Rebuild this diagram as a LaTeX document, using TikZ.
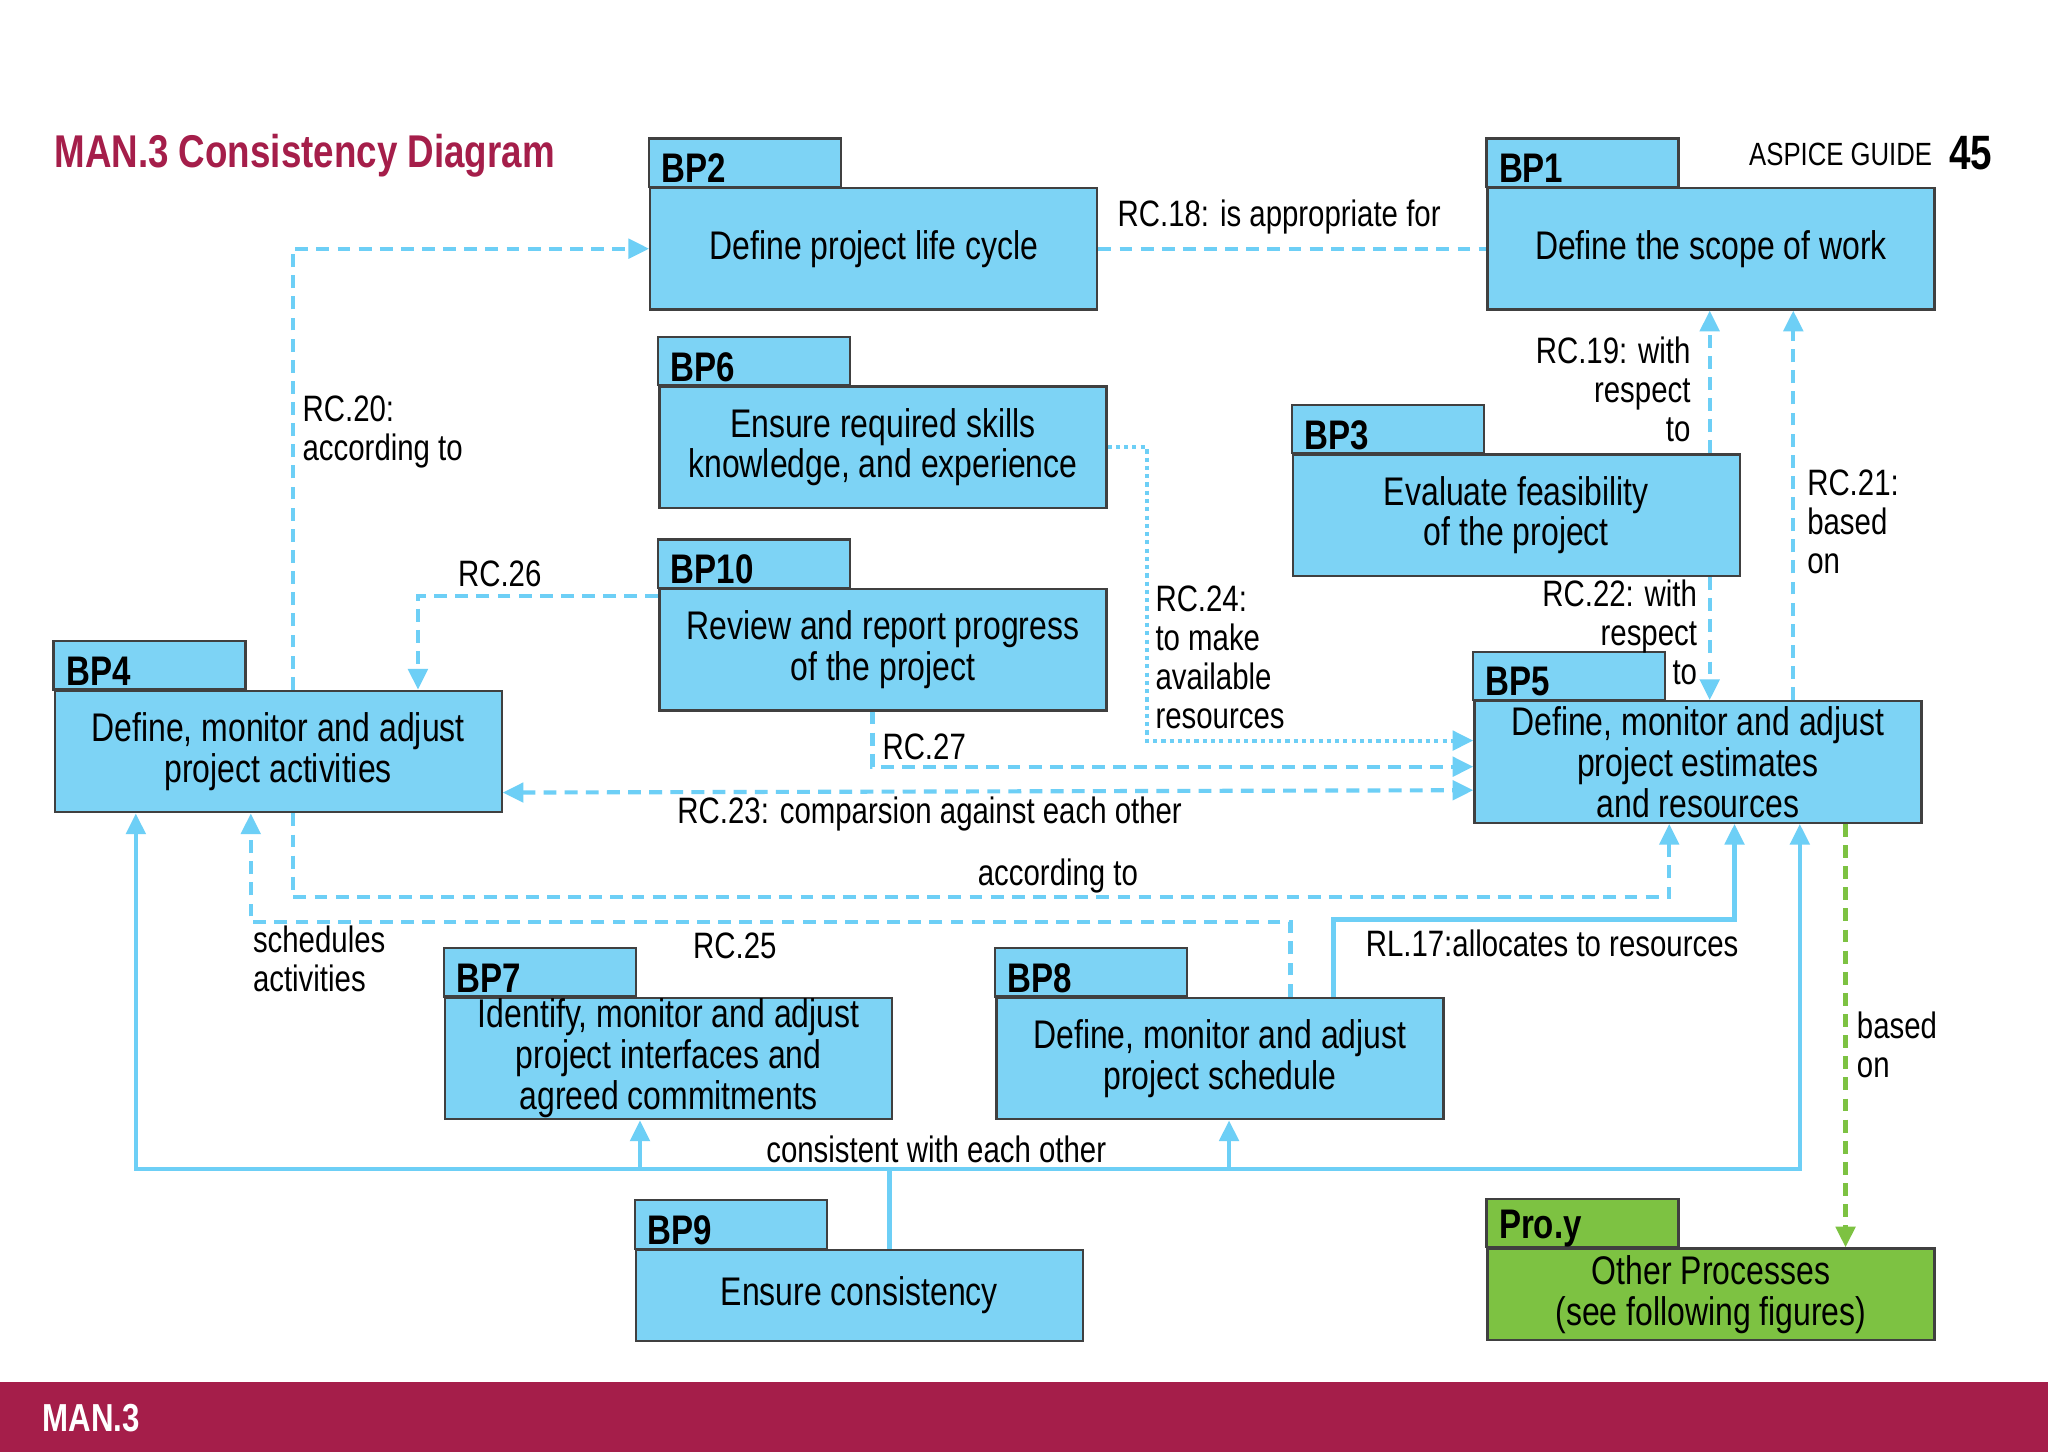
\documentclass[tikz,border=0pt]{standalone}
\usepackage{fontspec}
\setmainfont{Liberation Sans}[FakeStretch=0.8]
\usetikzlibrary{arrows.meta,calc}
\definecolor{boxblue}{HTML}{7DD3F5}
\definecolor{lineblue}{HTML}{6DCFF6}
\definecolor{grn}{HTML}{7DC242}
\definecolor{crim}{HTML}{A51E4A}
\tikzset{
  box/.style={draw=black!75,line width=0.5pt,fill=boxblue,minimum width=3.42cm,minimum height=0.93cm,anchor=north west,inner sep=0pt,align=center,font=\fontsize{8.7}{8.9}\selectfont},
  tab/.style={draw=black!75,line width=0.5pt,fill=boxblue},
  tabl/.style={anchor=west,inner sep=0pt,font=\bfseries\fontsize{9}{9}\selectfont},
  con/.style={draw=lineblue,line width=0.9pt},
  dsh/.style={con,dash pattern=on 2.8pt off 1.8pt},
  dot/.style={con,dash pattern=on 0.9pt off 0.9pt},
  arr/.style={-{Triangle[length=4.5pt,width=4.2pt]}},
  darr/.style={{Triangle[length=4.5pt,width=4.2pt]}-{Triangle[length=4.5pt,width=4.2pt]}},
  lbl/.style={inner sep=0pt,align=left,font=\fontsize{8}{8.5}\selectfont},
}
\newcommand\pkgbox[5]{% name, x, y(body top), label, text
  \node[box] (#1) at (#2,#3) {#5};
  \draw[tab] (#1.north west) rectangle ++(147,-37);
  \node[tabl] at ($(#1.north west)+(9,-14)$) {#4};
}
\begin{document}
\begin{tikzpicture}[x=0.01cm,y=-0.01cm]
\useasboundingbox (0,0) rectangle (1568,1112);
\fill[white] (0,0) rectangle (1568,1112);
\fill[crim] (0,1058) rectangle (1568,1112);
\node[anchor=west,inner sep=0pt,text=white,font=\bfseries\fontsize{8.5}{9}\selectfont] (foot) at (32,1086) {MAN.3};
\node[anchor=west,inner sep=0pt,text=crim,font=\bfseries\fontsize{10}{12}\selectfont] (title) at (41,119) {MAN.3 Consistency Diagram};
\node[anchor=east,inner sep=0pt,font=\fontsize{7}{8}\selectfont] (guide) at (1480,118) {ASPICE GUIDE};
\node[anchor=east,inner sep=0pt,font=\bfseries\fontsize{10.5}{11}\selectfont] (page) at (1526,117) {45};

\pkgbox{bp2}{497}{143}{BP2}{Define project life cycle}
\pkgbox{bp1}{1138}{143}{BP1}{Define the scope of work}
\pkgbox{bp6}{504}{295}{BP6}{Ensure required skills\\knowledge, and experience}
\pkgbox{bp3}{989}{347}{BP3}{Evaluate feasibility\\of the project}
\pkgbox{bp10}{504}{450}{BP10}{Review and report progress\\of the project}
\pkgbox{bp4}{41}{528}{BP4}{Define, monitor and adjust\\project activities}
\pkgbox{bp5}{1128}{536}{BP5}{Define, monitor and adjust\\project estimates\\and resources}
\pkgbox{bp7}{340}{763}{BP7}{Identify, monitor and adjust\\project interfaces and\\agreed commitments}
\pkgbox{bp8}{762}{763}{BP8}{Define, monitor and adjust\\project schedule}
\tikzset{box/.append style={minimum height=0.7cm}}
\pkgbox{bp9}{486}{956}{BP9}{Ensure consistency}
\tikzset{box/.append style={fill=grn},tab/.append style={fill=grn}}
\pkgbox{proy}{1138}{955}{Pro.y}{Other Processes\\(see following figures)}

% connectors
\draw[dsh] (bp2.east) -- (bp1.west);
\draw[dsh,arr] ($(bp4.north west)+(183,0)$) |- (bp2.west);
\draw[dsh,arr] ($(bp10.north west)+(0,6)$) -| ($(bp4.north west)+(279,0)$);
\draw[dot,arr] (bp6.east) -- ++(30,0) |- ($(bp5.north west)+(0,31)$);
\draw[dsh,arr] ($(bp10.south west)+(164,0)$) |- ($(bp5.north west)+(0,51)$);
\draw[dsh,darr] ($(bp4.south east)+(0,-16)$) -- ($(bp5.north west)+(0,69)$);
\draw[dsh,arr] ($(bp3.north west)+(320,0)$) -- ($(bp1.south west)+(171,0)$);
\draw[dsh,arr] ($(bp3.south west)+(320,0)$) -- ($(bp5.north west)+(181,0)$);
\draw[dsh,arr] ($(bp5.north west)+(245,0)$) -- ($(bp1.south west)+(235,0)$);
\draw[dsh,arr] ($(bp4.south west)+(183,0)$) -- ++(0,64) -| ($(bp5.south west)+(150,0)$);
\draw[dsh,arr] ($(bp8.north west)+(226,0)$) -- ++(0,-57) -| ($(bp4.south west)+(151,0)$);
\draw[con,arr] ($(bp8.north west)+(259,0)$) -- ++(0,-59) -| ($(bp5.south west)+(200,0)$);
\draw[con] ($(bp9.north west)+(195,0)$) -- ++(0,-61) coordinate (j);
\draw[con,arr] (j) -| ($(bp4.south west)+(63,0)$);
\draw[con,arr] (j) -| ($(bp7.south west)+(150,0)$);
\draw[con,arr] (j) -| ($(bp8.south west)+(179,0)$);
\draw[con,arr] (j) -| ($(bp5.south west)+(250,0)$);
\draw[draw=grn,line width=0.9pt,dash pattern=on 2.8pt off 1.8pt,arr] ($(bp5.south west)+(285,0)$) -- ($(proy.north west)+(275,0)$);

% labels
\node[lbl,anchor=west] (l18) at (855,166) {RC.18: is appropriate for};
\node[lbl,anchor=north west] (l20) at (231,302) {RC.20:\\according to};
\node[lbl,anchor=west] (l26) at (350,439) {RC.26};
\node[lbl,anchor=north west] (l24) at (884,448) {RC.24:\\to make\\available\\resources};
\node[lbl,anchor=west] (l27) at (675,572) {RC.27};
\node[lbl,anchor=west] (l23) at (518,623) {RC.23: comparsion against each other};
\node[lbl,anchor=north east,align=right] (l19) at (1295,257) {RC.19: with\\respect\\to};
\node[lbl,anchor=north east,align=right] (l22) at (1300,443) {RC.22: with\\respect\\to};
\node[lbl,anchor=north west] (l21) at (1383,359) {RC.21:\\based\\on};
\node[lbl,anchor=west] (lacc) at (748,671) {according to};
\node[lbl,anchor=west] (l25) at (530,724) {RC.25};
\node[lbl,anchor=north west] (lsch) at (193,708) {schedules\\activities};
\node[lbl,anchor=west] (l17) at (1045,722) {RL.17:allocates to resources};
\node[lbl,anchor=west] (lcon) at (586,880) {consistent with each other};
\node[lbl,anchor=north west] (lbo) at (1421,774) {based\\on};
\end{tikzpicture}
\end{document}
